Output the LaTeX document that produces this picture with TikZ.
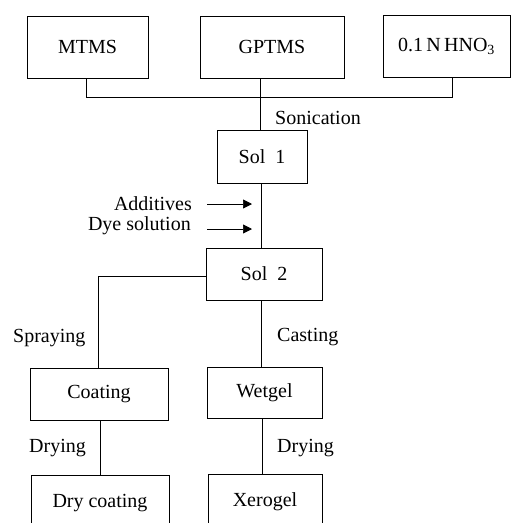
\documentclass[tikz,border=0pt]{standalone}
\usepackage{fontspec}
\setmainfont{Liberation Serif}
\usetikzlibrary{arrows.meta}
\begin{document}
\begin{tikzpicture}[x=1pt,y=-1pt,
  box/.style={draw, line width=0.8pt, inner sep=0pt, font=\fontsize{20}{24}\selectfont},
  lbl/.style={inner sep=0pt, font=\fontsize{20}{24}\selectfont},
  conn/.style={line width=0.8pt},
  arr/.style={line width=0.7pt, -{Triangle[length=9pt,width=9pt]}}]
\useasboundingbox (0,0) rectangle (513,523);
\begin{scope}
\clip (0,0) rectangle (513,523);
\node[box, minimum width=121pt, minimum height=62pt] (MTMS) at (87.5,47) {MTMS};
\node[box, minimum width=144pt, minimum height=62pt] (GPTMS) at (272,47) {GPTMS};
\node[box, minimum width=127pt, minimum height=62pt] (HNO3) at (446.5,46) {0.1\,N\,HNO\textsubscript{3}};
\node[box, minimum width=90pt, minimum height=53pt] (Sol1) at (262,156.5) {Sol\ \ 1};
\node[box, minimum width=116pt, minimum height=52pt] (Sol2) at (264,274) {Sol\ \ 2};
\node[box, minimum width=138pt, minimum height=52pt] (Coating) at (99,394) {Coating};
\node[box, minimum width=115pt, minimum height=51pt] (Wetgel) at (264.5,392.5) {Wetgel};
\node[box, minimum width=138pt, minimum height=56pt] (Dry) at (100,503) {Dry coating};
\node[box, minimum width=114pt, minimum height=56pt] (Xero) at (265,502) {Xerogel};

\coordinate (busL) at (86,97);
\coordinate (busR) at (452,97);
\coordinate (trunkA) at (260,0);
\coordinate (trunkB) at (261,0);
\coordinate (lb) at (98,276);
\coordinate (rb) at (261,0);
\coordinate (lc) at (100,0);
\coordinate (rc) at (262,0);
\draw[conn] (MTMS.south -| busL) -- (busL) -- (busR) -- (HNO3.south -| busR);
\draw[conn] (GPTMS.south -| trunkA) -- (Sol1.north -| trunkA);
\draw[conn] (Sol1.south -| trunkB) -- (Sol2.north -| trunkB);
\draw[conn] (Sol2.west |- lb) -- (lb) -- (Coating.north -| lb);
\draw[conn] (Sol2.south -| rb) -- (Wetgel.north -| rb);
\draw[conn] (Coating.south -| lc) -- (Dry.north -| lc);
\draw[conn] (Wetgel.south -| rc) -- (Xero.north -| rc);

\coordinate (a1s) at (207,204);
\coordinate (a1e) at (252,204);
\coordinate (a2s) at (207,229);
\coordinate (a2e) at (252,229);
\draw[arr] (a1s) -- (a1e);
\draw[arr] (a2s) -- (a2e);

\node[lbl, anchor=base west] (son) at (275,124) {Sonication};
\node[lbl, anchor=base east] (add) at (192,210) {Additives};
\node[lbl, anchor=base east] (dye) at (191,230) {Dye solution};
\node[lbl, anchor=base west] (spr) at (13,342) {Spraying};
\node[lbl, anchor=base west] (cast) at (277,341) {Casting};
\node[lbl, anchor=base west] (dryL) at (29,452) {Drying};
\node[lbl, anchor=base west] (dryR) at (277,452) {Drying};
\end{scope}
\end{tikzpicture}
\end{document}
